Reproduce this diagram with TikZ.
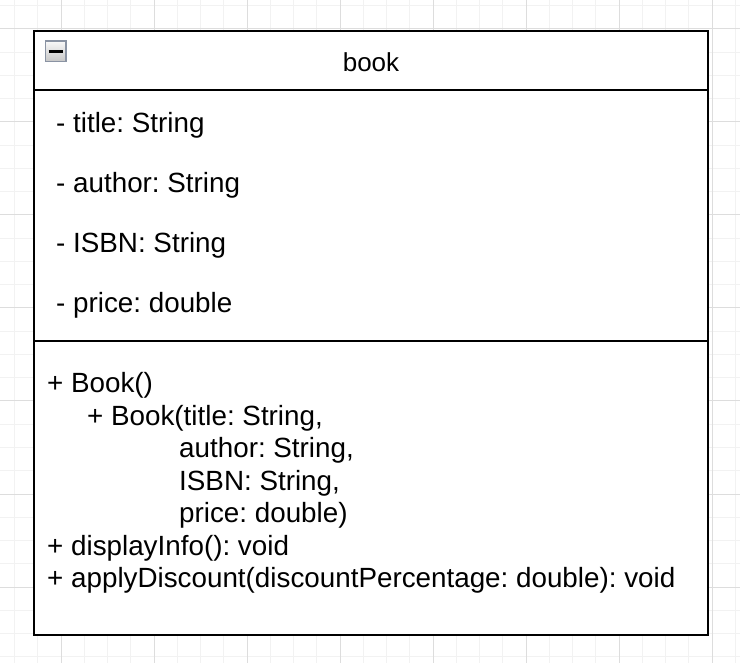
\documentclass[tikz,border=0pt]{standalone}
\usepackage{fontspec}
\setmainfont{Liberation Sans}
\frenchspacing
\definecolor{gridminor}{HTML}{F2F2F2}
\definecolor{gridmajor}{HTML}{DDDDDD}
\definecolor{iconborder}{HTML}{8A93A3}
\begin{document}
\begin{tikzpicture}[x=1pt,y=-1pt,
  member/.style={anchor=base west,inner sep=0pt,font=\fontsize{27.8}{33}\selectfont},
  frame/.style={draw=black,line width=2.2pt}]
\useasboundingbox (0,0) rectangle (740,663);
\fill[white] (0,0) rectangle (740,663);
% grid
\foreach \i in {-2,...,29}{
  \draw[gridminor,line width=1pt] ({61+23.25*\i},0) -- ({61+23.25*\i},663);
  \draw[gridminor,line width=1pt] (0,{29+23.25*\i}) -- (740,{29+23.25*\i});
}
\foreach \i in {0,...,7}{
  \draw[gridmajor,line width=1pt] ({61+93*\i},0) -- ({61+93*\i},663);
  \draw[gridmajor,line width=1pt] (0,{29+93*\i}) -- (740,{29+93*\i});
}
% class box
\node[frame,fill=white,minimum width=674pt,minimum height=604pt,inner sep=0pt,anchor=north west] (box) at (33,30) {};
\coordinate (h1) at (33,90);
\coordinate (h2) at (707,90);
\coordinate (s1) at (33,341);
\coordinate (s2) at (707,341);
\draw[frame] (h1) -- (h2);
\draw[frame] (s1) -- (s2);
% collapse icon
\node[draw=iconborder,line width=1.5pt,top color=white!95!gray,bottom color=gray!45,minimum width=20.5pt,minimum height=20.5pt,inner sep=0pt,anchor=north west] (icon) at (44.5,40.5) {};
\draw[black,line width=2.5pt] ([xshift=4pt]icon.west) -- ([xshift=-4pt]icon.east);
% title
\node[anchor=base,inner sep=0pt,font=\fontsize{26}{30}\selectfont] (name) at (371,72) {book};
% attributes
\node[member] (a1) at (56,133) {- title: String};
\node[member] (a2) at (56,193) {- author: String};
\node[member] (a3) at (56,253) {- ISBN: String};
\node[member] (a4) at (56,313) {- price: double};
% operations
\node[member] (m1) at (47,392) {+ Book()};
\node[member] (m2) at (87,425) {+ Book(title: String,};
\node[member] (m3) at (179,457) {author: String,};
\node[member] (m4) at (179,490) {ISBN: String,};
\node[member] (m5) at (179,522) {price: double)};
\node[member] (m6) at (47,555) {+ displayInfo(): void};
\node[member] (m7) at (47,587) {+ applyDiscount(discountPercentage: double): void};
\end{tikzpicture}
\end{document}
